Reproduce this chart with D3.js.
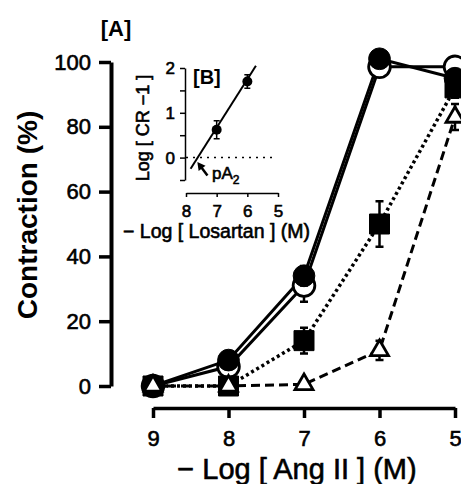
<!DOCTYPE html>
<html>
<head>
<meta charset="utf-8">
<script src="https://cdn.jsdelivr.net/npm/d3@7"></script>
<style>
  body { margin: 0; background: #fff; }
  svg { display: block; font-family: "Liberation Sans", Arial, sans-serif; }
  .heavy { stroke: #000; stroke-width: 0.6px; }
</style>
</head>
<body>
<div id="chart"></div>
<script>
// Main panel [A]: contraction vs -log[Ang II]
const doses = [9, 8, 7, 6, 5];
const filledCircle = [0, 8, 34, 101, 95];
const filledCircleErr = [0, 1.5, 3, 1.5, 2];
const openCircle = [0, 6, 31, 98.5, 98.5];
const openCircleErr = [0, 2, 5, 2, 2];
const filledSquare = [0, 0, 14, 50, 92];
const filledSquareErr = [0, 0, 4, 7, 3];
const openTriangle = [0, 0, 0.5, 11, 83];
const openTriangleErr = [0, 0, 0.5, 3, 4];
const yTicks = [0, 20, 40, 60, 80, 100];

// Inset [B]: Schild plot
const losartanDoses = [7, 6];
const logCR = [0.62, 1.7];
const logCRErr = [0.2, 0.15];
const regressionX = [7.85, 5.72];
const regressionY = [-0.25, 2.05];
const insetXTicks = [8, 7, 6, 5];
const insetYTicks = [-0.5, 0, 0.5, 1, 1.5, 2];
const insetYLabels = [0, 1, 2];
const arrowFrom = [7.3, -0.4];
const arrowTo = [7.63, -0.1];

const svg = d3.select("#chart").append("svg")
    .attr("width", 461)
    .attr("height", 484);

// scales
const x = d3.scaleLinear().domain([9, 5]).range([153, 455]);
const y = d3.scaleLinear().domain([0, 100]).range([386, 62]);

// y axis
const yAxis = svg.append("g")
    .attr("transform", "translate(111,0)")
    .call(d3.axisLeft(y).tickValues(yTicks).tickSize(12).tickSizeOuter(0).tickPadding(8));
yAxis.select(".domain").attr("stroke-width", 4);
yAxis.selectAll(".tick line").attr("stroke-width", 3.5);
yAxis.selectAll("text")
    .attr("class", "heavy")
    .attr("font-size", 22)
    .attr("font-family", "Liberation Sans, Arial, sans-serif")
    .attr("fill", "#000");

// x axis
const xAxis = svg.append("g")
    .attr("transform", "translate(0,408)")
    .call(d3.axisBottom(x).tickValues(doses).tickFormat(d3.format("d"))
        .tickSize(10).tickSizeOuter(0).tickPadding(12));
xAxis.select(".domain").attr("stroke-width", 3.5);
xAxis.selectAll(".tick line").attr("stroke-width", 3.5);
xAxis.selectAll("text")
    .attr("class", "heavy")
    .attr("font-size", 22)
    .attr("font-family", "Liberation Sans, Arial, sans-serif")
    .attr("fill", "#000");

// titles
svg.append("text")
    .attr("class", "heavy")
    .attr("x", 297).attr("y", 479)
    .attr("text-anchor", "middle")
    .attr("font-size", 29)
    .text("\u2212 Log [ Ang II ] (M)");

svg.append("text")
    .attr("transform", "translate(37,215) rotate(-90)")
    .attr("text-anchor", "middle")
    .attr("font-size", 28)
    .attr("font-weight", "bold")
    .text("Contraction (%)");

svg.append("text")
    .attr("x", 116).attr("y", 36)
    .attr("text-anchor", "middle")
    .attr("font-size", 22)
    .attr("font-weight", "bold")
    .text("[A]");

// series
const series = [
    { values: openCircle, err: openCircleErr, shape: "circle", fill: "#fff", dash: null },
    { values: filledCircle, err: filledCircleErr, shape: "circle", fill: "#000", dash: null },
    { values: filledSquare, err: filledSquareErr, shape: "square", fill: "#000", dash: "3,3" },
    { values: openTriangle, err: openTriangleErr, shape: "triangle", fill: "#fff", dash: "9,5" }
];
series.forEach(s => {
    s.points = doses.map((d, i) => ({ x: d, v: s.values[i], e: s.err[i] }));
});

const line = d3.line().x(d => x(d.x)).y(d => y(d.v));

svg.append("g").selectAll("path")
    .data(series)
    .join("path")
    .attr("d", s => line(s.points))
    .attr("fill", "none")
    .attr("stroke", "#000")
    .attr("stroke-width", s => s.dash === "3,3" ? 3.5 : 3)
    .attr("stroke-dasharray", s => s.dash);

const symbolType = { circle: d3.symbolCircle, square: d3.symbolSquare, triangle: d3.symbolTriangle };
const symbolSize = { circle: 370, square: 400, triangle: 140 };

series.forEach(s => {
    const g = svg.append("g");
    const withErr = s.points.filter(p => p.e > 0);
    g.selectAll(".bar")
        .data(withErr)
        .join("path")
        .attr("d", p => {
            const cx = x(p.x), y0 = y(p.v - p.e), y1 = y(p.v + p.e);
            return `M${cx},${y0}V${y1}M${cx - 4},${y0}H${cx + 4}M${cx - 4},${y1}H${cx + 4}`;
        })
        .attr("stroke", "#000")
        .attr("stroke-width", 2.5)
        .attr("fill", "none");
    g.selectAll(".pt")
        .data(s.points)
        .join("path")
        .attr("transform", p => `translate(${x(p.x)},${y(p.v)})`)
        .attr("d", d3.symbol().type(symbolType[s.shape]).size(symbolSize[s.shape]))
        .attr("fill", s.fill)
        .attr("stroke", "#000")
        .attr("stroke-width", s.fill === "#fff" ? 2.8 : 1);
});

// ---- inset [B] ----
const ix = d3.scaleLinear().domain([8, 5]).range([186, 278]);
const iy = d3.scaleLinear().domain([-0.5, 2]).range([180, 68]);

const iyAxis = svg.append("g")
    .attr("transform", "translate(185,0)")
    .call(d3.axisLeft(iy).tickValues(insetYTicks).tickSize(5).tickSizeOuter(0).tickPadding(5)
        .tickFormat(d => insetYLabels.includes(d) ? d : ""));
iyAxis.selectAll(".domain, .tick line").attr("stroke-width", 1.5);
iyAxis.selectAll("text")
    .attr("class", "heavy")
    .attr("font-size", 17)
    .attr("font-family", "Liberation Sans, Arial, sans-serif")
    .attr("fill", "#000");

const ixAxis = svg.append("g")
    .attr("transform", "translate(0,193)")
    .call(d3.axisBottom(ix).tickValues(insetXTicks).tickFormat(d3.format("d"))
        .tickSize(4).tickSizeOuter(0).tickPadding(8));
ixAxis.selectAll(".domain, .tick line").attr("stroke-width", 1.5);
ixAxis.selectAll("text")
    .attr("class", "heavy")
    .attr("font-size", 17)
    .attr("font-family", "Liberation Sans, Arial, sans-serif")
    .attr("fill", "#000");

svg.append("text")
    .attr("class", "heavy")
    .attr("x", 123).attr("y", 238)
    .attr("font-size", 19.5)
    .text("\u2212 Log [ Losartan ] (M)");

svg.append("text")
    .attr("class", "heavy")
    .attr("transform", "translate(149,128) rotate(-90)")
    .attr("text-anchor", "middle")
    .attr("font-size", 18)
    .text("Log [ CR \u22121 ]");

svg.append("text")
    .attr("x", 193).attr("y", 84)
    .attr("font-size", 20)
    .attr("font-weight", "bold")
    .text("[B]");

// zero line
svg.append("line")
    .attr("x1", ix(8)).attr("x2", ix(5.1))
    .attr("y1", iy(0)).attr("y2", iy(0))
    .attr("stroke", "#000")
    .attr("stroke-width", 1.5)
    .attr("stroke-dasharray", "2,5");

// regression
svg.append("line")
    .attr("x1", ix(regressionX[0])).attr("y1", iy(regressionY[0]))
    .attr("x2", ix(regressionX[1])).attr("y2", iy(regressionY[1]))
    .attr("stroke", "#000")
    .attr("stroke-width", 2);

const schild = losartanDoses.map((d, i) => ({ x: d, v: logCR[i], e: logCRErr[i] }));
svg.append("g").selectAll("path")
    .data(schild)
    .join("path")
    .attr("d", p => {
        const cx = ix(p.x), y0 = iy(p.v - p.e), y1 = iy(p.v + p.e);
        return `M${cx},${y0}V${y1}M${cx - 3},${y0}H${cx + 3}M${cx - 3},${y1}H${cx + 3}`;
    })
    .attr("stroke", "#000")
    .attr("stroke-width", 1.5)
    .attr("fill", "none");
svg.append("g").selectAll("circle")
    .data(schild)
    .join("circle")
    .attr("cx", p => ix(p.x))
    .attr("cy", p => iy(p.v))
    .attr("r", 5)
    .attr("fill", "#000");

// pA2 arrow
const ax0 = ix(arrowFrom[0]), ay0 = iy(arrowFrom[1]);
const ax1 = ix(arrowTo[0]), ay1 = iy(arrowTo[1]);
const ang = Math.atan2(ay1 - ay0, ax1 - ax0);
svg.append("line")
    .attr("x1", ax0).attr("y1", ay0)
    .attr("x2", ax1 - 4 * Math.cos(ang)).attr("y2", ay1 - 4 * Math.sin(ang))
    .attr("stroke", "#000")
    .attr("stroke-width", 2.5);
svg.append("path")
    .attr("d", `M${ax1},${ay1}L${ax1 - 9 * Math.cos(ang - 0.5)},${ay1 - 9 * Math.sin(ang - 0.5)}L${ax1 - 9 * Math.cos(ang + 0.5)},${ay1 - 9 * Math.sin(ang + 0.5)}Z`)
    .attr("fill", "#000");

const pa = svg.append("text")
    .attr("class", "heavy")
    .attr("x", ix(7.15)).attr("y", 179)
    .attr("font-size", 17);
pa.append("tspan").text("pA");
pa.append("tspan").attr("font-size", 12).attr("dy", 5).text("2");
</script>
</body>
</html>
